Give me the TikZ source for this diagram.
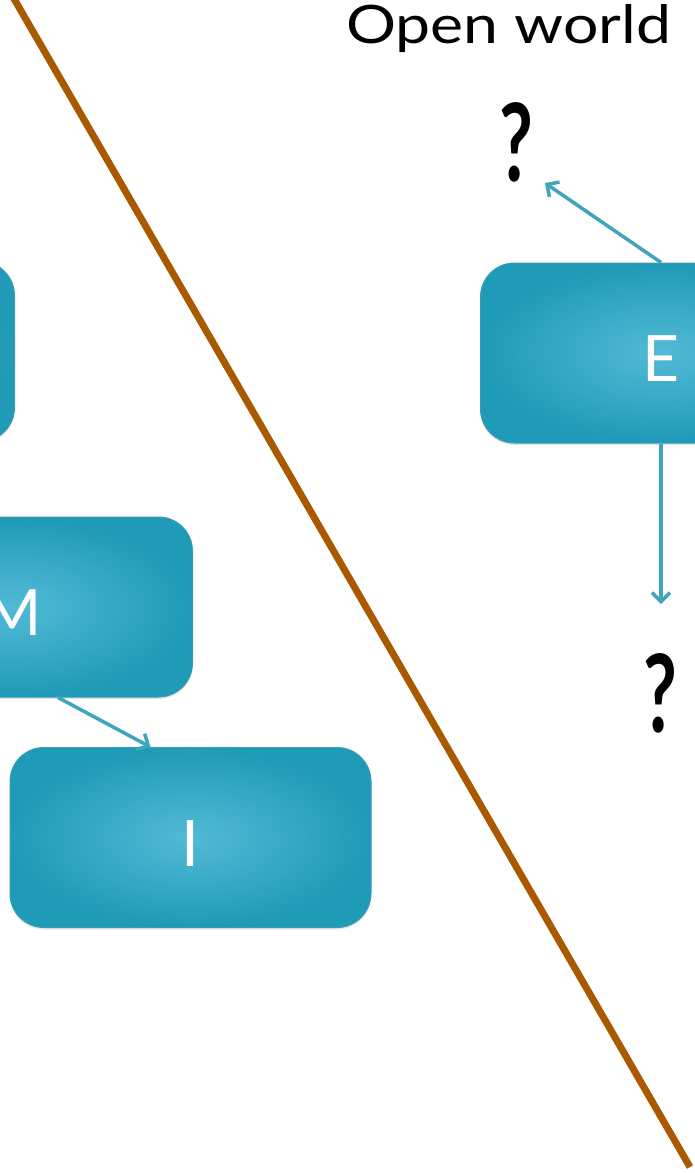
\documentclass[tikz,border=0pt]{standalone}
\usepackage{fontspec}
\setmainfont{Lato}
\usetikzlibrary{arrows.meta,shadows,calc}
\definecolor{boxin}{HTML}{52BAD6}
\definecolor{boxout}{HTML}{1F9AB7}
\definecolor{boxline}{HTML}{3A9CB4}
\definecolor{arr}{HTML}{3FA4BE}
\definecolor{divider}{HTML}{A95A00}
\tikzset{
 card/.style={rounded corners=34pt, minimum width=361pt, minimum height=180pt,
   inner color=boxin, outer color=boxout, draw=boxline, line width=1pt,
   text=white, font=\fontsize{64}{64}\selectfont, text height=57pt, text depth=0pt,
   drop shadow={opacity=0.2,shadow xshift=0pt,shadow yshift=-2pt}},
 link/.style={draw=arr, line width=3.5pt, -{Straight Barb[length=9pt,width=18pt,line width=3.5pt]}},
 qmark/.style={font=\fontsize{108}{108}\selectfont\bfseries, inner sep=0pt, anchor=base},
 title/.style={font=\fontsize{53}{53}\selectfont, inner sep=0pt, anchor=base west},
}
\begin{document}
\begin{tikzpicture}[x=1pt,y=-1pt]
\useasboundingbox (0,0) rectangle (694,1173);
\fill[white] (0,0) rectangle (694,1173);
% divider
\draw[divider, line width=7pt] (13,-3) -- (690,1167);
% title
\node[title] (title) at (346,43) {\scalebox{1.18}[1]{Open world}};
% boxes
\node[card] (L) at (-166,351.5) {};
\node[card] (E) at (661,353) {E};
\node[card] (M) at (12,607) {M};
\node[card] (I) at (190.5,837.5) {I};
% question marks
\node[qmark] (q1) at (516,181) {\scalebox{0.68}[1]{?}};
\node[qmark] (q2) at (660,732) {\scalebox{0.68}[1]{?}};
% connector ends
\coordinate (q1tip) at (545,183);
\coordinate (q2tip) at (661,604);
\coordinate (mOut) at ($(M.south)+(46,0)$);
\coordinate (iIn) at ($(I.north west)+(141,0)$);
% connectors
\draw[link] (E.north) -- (q1tip);
\draw[link] (E.south) -- (q2tip);
\draw[link] (mOut) -- (iIn);
\end{tikzpicture}
\end{document}
